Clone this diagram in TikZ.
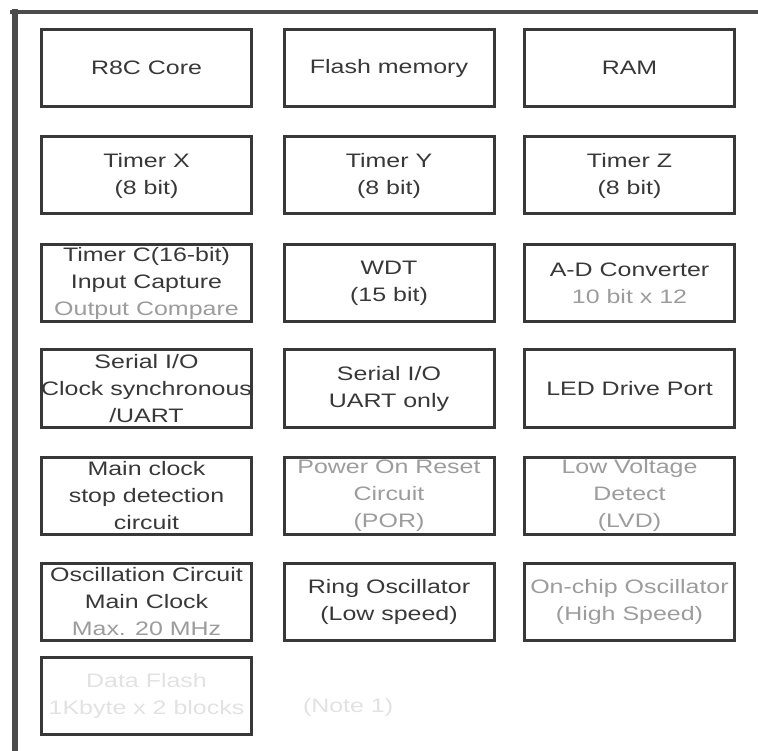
\documentclass[tikz,border=0pt]{standalone}
\usepackage{fontspec}
\setmainfont[FakeStretch=1.28]{Liberation Sans}
\usepackage{tikz}
\usetikzlibrary{positioning}
\definecolor{inkdark}{HTML}{383838}
\definecolor{inkgrey}{HTML}{9C9C9C}
\definecolor{inkpale}{HTML}{E2E2E2}
\newcommand{\greytext}[1]{\textcolor{inkgrey}{#1}}
\newcommand{\paletext}[1]{\textcolor{inkpale}{#1}}

\begin{document}
\begin{tikzpicture}[
  x=1pt, y=-1pt,
  block/.style={draw=inkdark, line width=3pt, minimum width=210pt, minimum height=77pt,
    inner sep=0pt, outer sep=0pt, align=center, text=inkdark,
    font=\fontsize{19.5}{27}\selectfont},
  frame/.style={draw=inkdark!90, line cap=rect}
]
\useasboundingbox (0,0) rectangle (758,751);

% outer frame (only top and left edges in view)
\draw[frame, line width=4pt] (12,12.5) -- (758,12.5);
\draw[frame, line width=6pt] (15,12) -- (15,751);

% row 1
\node[block] (core) at (146.5,68) {R8C Core};
\node[block] (flash) at (389,68) {Flash memory};
\node[block] (ram) at (629.5,68) {RAM};

% row 2
\node[block] (tmrx) at (146.5,175.5) {Timer X\\(8 bit)};
\node[block] (tmry) at (389,175.5) {Timer Y\\(8 bit)};
\node[block] (tmrz) at (629.5,175.5) {Timer Z\\(8 bit)};

% row 3
\node[block] (tmrc) at (146.5,283) {Timer C(16-bit)\\Input Capture\\\greytext{Output Compare}};
\node[block] (wdt) at (389,283) {WDT\\(15 bit)};
\node[block] (adc) at (629.5,283) {A-D Converter\\\greytext{10 bit x 12}};

% row 4
\node[block] (sio) at (146.5,388.5) {Serial I/O\\Clock synchronous\\/UART};
\node[block] (uart) at (389,388.5) {Serial I/O\\UART only};
\node[block] (led) at (629.5,388.5) {LED Drive Port};

% row 5
\node[block] (stopdet) at (146.5,495.5) {Main clock\\stop detection\\circuit};
\node[block, text=inkgrey] (por) at (389,495.5) {Power On Reset\\Circuit\\(POR)};
\node[block, text=inkgrey] (lvd) at (629.5,495.5) {Low Voltage\\Detect\\(LVD)};

% row 6
\node[block] (mainosc) at (146.5,602) {Oscillation Circuit\\Main Clock\\\greytext{Max. 20 MHz}};
\node[block] (ringosc) at (389,602) {Ring Oscillator\\(Low speed)};
\node[block, text=inkgrey] (hsosc) at (629.5,602) {On-chip Oscillator\\(High Speed)};

% row 7
\node[block, text=inkpale] (dflash) at (146.5,695.5) {Data Flash\\1Kbyte x 2 blocks};
\node[text=inkpale, font=\fontsize{19.5}{27}\selectfont, right=48pt of dflash.east, yshift=-12pt] (note) {(Note 1)};
\end{tikzpicture}
\end{document}
